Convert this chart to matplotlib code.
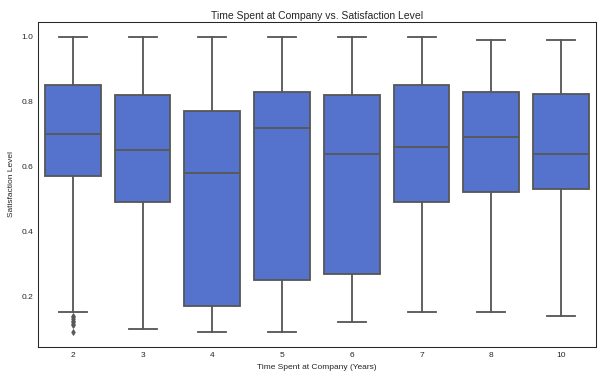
import matplotlib
matplotlib.use("Agg")
import matplotlib.pyplot as plt
import colorsys

categories = ["2", "3", "4", "5", "6", "7", "8", "10"]
whislo = [0.15, 0.10, 0.09, 0.09, 0.12, 0.15, 0.15, 0.14]
q1 = [0.57, 0.49, 0.17, 0.25, 0.27, 0.49, 0.52, 0.53]
med = [0.70, 0.65, 0.58, 0.72, 0.64, 0.66, 0.69, 0.64]
q3 = [0.85, 0.82, 0.77, 0.83, 0.82, 0.85, 0.83, 0.825]
whishi = [1.00, 1.00, 1.00, 1.00, 1.00, 1.00, 0.99, 0.99]
fliers = [[0.14, 0.135, 0.13, 0.125, 0.12, 0.115, 0.11, 0.09], [], [], [], [], [], [], []]

plt.rcParams['font.family'] = ['Liberation Sans', 'DejaVu Sans']

# seaborn-like desaturated royalblue and gray
r, g, b = matplotlib.colors.to_rgb("royalblue")
h, l, s = colorsys.rgb_to_hls(r, g, b)
face = colorsys.hls_to_rgb(h, l, s * 0.75)
gl = l * 0.6
gray = (gl, gl, gl)

fig = plt.figure(figsize=(602 / 60, 380 / 60), dpi=60)
ax = fig.add_axes([0.063, 0.0876, 0.927, 0.8544])

stats = []
for i, c in enumerate(categories):
    stats.append(dict(label=c, whislo=whislo[i], q1=q1[i], med=med[i],
                      q3=q3[i], whishi=whishi[i], fliers=fliers[i]))

lw = 2.2
ax.bxp(stats, positions=range(len(categories)), widths=0.8, patch_artist=True,
       boxprops=dict(facecolor=face, edgecolor=gray, linewidth=lw),
       medianprops=dict(color=gray, linewidth=lw),
       whiskerprops=dict(color=gray, linewidth=lw),
       capprops=dict(color=gray, linewidth=lw),
       capwidths=0.4,
       flierprops=dict(marker='d', markerfacecolor=gray, markeredgecolor=gray,
                       markersize=5, linestyle='none'))

ax.set_xlim(-0.5, len(categories) - 0.5)
ax.set_xticks(range(len(categories)))
ax.set_xticklabels(categories)
ax.set_yticks([0.2, 0.4, 0.6, 0.8, 1.0])
ax.set_yticklabels(["0.2", "0.4", "0.6", "0.8", "1.0"])
ax.tick_params(length=0, labelsize=10, colors='0.15', pad=6)
for sp in ax.spines.values():
    sp.set_color('0.15')
    sp.set_linewidth(1.25)

ax.set_xlabel("Time Spent at Company (Years)", fontsize=10, color='0.15', labelpad=6)
ax.set_ylabel("Satisfaction Level", fontsize=10, color='0.15', labelpad=7)
ax.set_title("Time Spent at Company vs. Satisfaction Level", fontsize=12.5,
             color='0.15', pad=4)

fig.savefig("out.png", dpi=60)
